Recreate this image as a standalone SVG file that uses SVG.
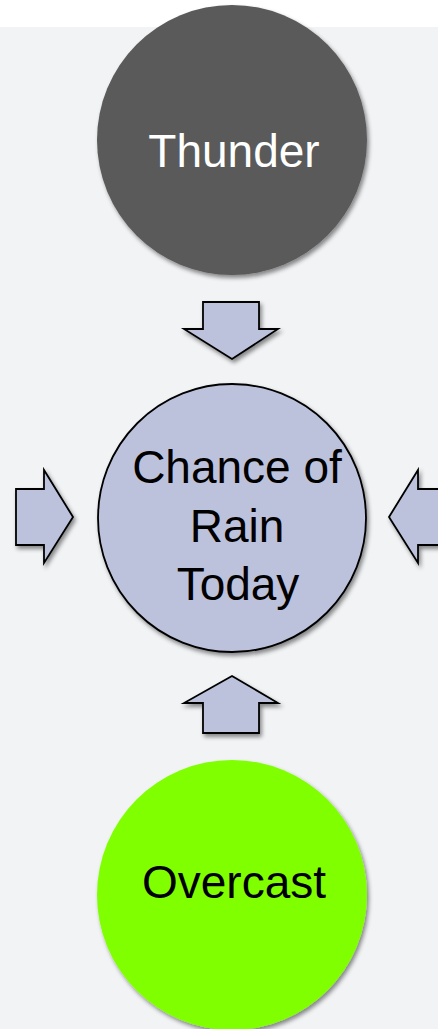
<svg xmlns="http://www.w3.org/2000/svg" width="438" height="1029" viewBox="0 0 438 1029">
  <defs>
    <filter id="sh" x="-20%" y="-20%" width="140%" height="140%">
      <feDropShadow dx="2" dy="3" stdDeviation="2" flood-color="#000" flood-opacity="0.45"/>
    </filter>
    <style>
      .lbl { font-family: "Liberation Sans", Arial, sans-serif; font-size: 46px; text-anchor: middle; }
      .arrow { fill: #bcc2dc; stroke: #000; stroke-width: 1.8; stroke-linejoin: miter; filter: url(#sh); }
    </style>
  </defs>
  <rect x="0" y="0" width="438" height="1029" fill="#ffffff"/>
  <rect x="0" y="27" width="438" height="1002" fill="#f2f3f5"/>

  <g id="connectors">
    <polygon class="arrow" points="203,302 259,302 259,329 278,329 232,359 184,329 203,329"/>
    <polygon class="arrow" points="16,489 44,489 44,470 73,517 44,563 44,545 16,545"/>
    <polygon class="arrow" points="446,489 418,489 418,470 389,517 418,563 418,545 446,545"/>
    <polygon class="arrow" points="232,676 278,703 259,703 259,733 203,733 203,703 184,703"/>
  </g>

  <g id="thunder">
    <circle cx="232" cy="140" r="135" fill="#5a5a5a" filter="url(#sh)"/>
    <text class="lbl" x="234" y="167" fill="#ffffff">Thunder</text>
  </g>

  <g id="chance">
    <circle cx="232" cy="518" r="134" fill="#bcc2dc" stroke="#000" stroke-width="1.8" filter="url(#sh)"/>
    <text class="lbl" x="237" y="483" fill="#000">Chance of</text>
    <text class="lbl" x="237" y="542" fill="#000">Rain</text>
    <text class="lbl" x="238" y="600" fill="#000">Today</text>
  </g>

  <g id="overcast">
    <circle cx="232" cy="895" r="135" fill="#80ff00" filter="url(#sh)"/>
    <text class="lbl" x="234" y="898" fill="#000">Overcast</text>
  </g>
</svg>
